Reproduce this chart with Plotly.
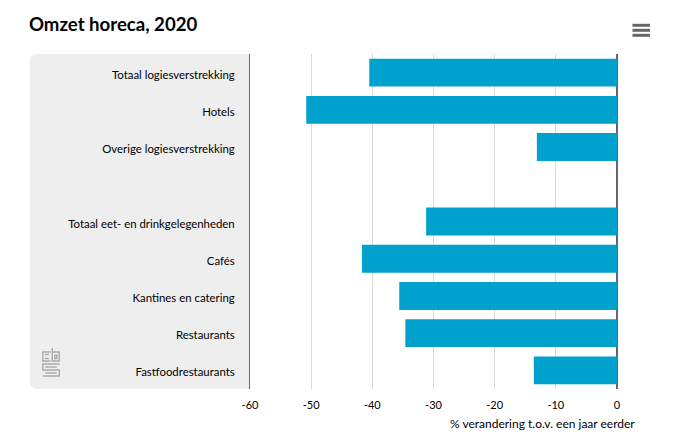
import plotly.graph_objects as go

categories = ["Totaal logiesverstrekking", "Hotels", "Overige logiesverstrekking", " ",
              "Totaal eet- en drinkgelegenheden", "Cafés", "Kantines en catering",
              "Restaurants", "Fastfoodrestaurants"]
values = [-40.5, -50.8, -13.1, None, -31.2, -41.7, -35.6, -34.6, -13.6]
x_ticks = [-60, -50, -40, -30, -20, -10, 0]
x_labels = ["-60", "-50", "-40", "-30", "-20", "-10", "0"]

W, H = 694, 446
L, R, T, B = 249.5, 617.0, 54.0, 389.0
FONT = "Lato"

def px(x):
    return (x - L) / (R - L)

def py(y):
    return (B - y) / (B - T)

def path(points, close=False):
    s = " ".join(("M" if i == 0 else "L") + f"{px(a):.4f},{py(b):.4f}" for i, (a, b) in enumerate(points))
    return s + (" Z" if close else "")

shapes = []
# grey panel behind the labels, rounded on the left
r = 8
panel = (f"M{px(249.5):.4f},{py(54):.4f} L{px(29 + r):.4f},{py(54):.4f} "
         f"Q{px(29):.4f},{py(54):.4f} {px(29):.4f},{py(54 + r):.4f} "
         f"L{px(29):.4f},{py(389 - r):.4f} "
         f"Q{px(29):.4f},{py(389):.4f} {px(29 + r):.4f},{py(389):.4f} "
         f"L{px(249.5):.4f},{py(389):.4f} Z")
shapes.append(dict(type="path", xref="paper", yref="paper", path=panel,
                   fillcolor="#eeeeee", line=dict(width=0), layer="below"))
# menu icon
for y in (25.3, 30.3, 35.3):
    shapes.append(dict(type="line", xref="paper", yref="paper", x0=px(632.5), x1=px(650),
                       y0=py(y), y1=py(y), line=dict(color="#666666", width=3)))
# logo
logo = [
    [(50, 352), (42, 352), (42, 361), (50, 361)],
    [(44, 354.5), (48, 354.5)],
    [(44, 358.5), (48, 358.5)],
    [(51.5, 348), (51.5, 361), (58.5, 361), (58.5, 352), (51.5, 352)],
    [(54, 355), (56, 355), (56, 358.5), (54, 358.5), (54, 355)],
    [(59, 364), (42, 364), (42, 370), (58.5, 370), (58.5, 376), (42, 376)],
    [(44.5, 367), (56, 367)],
    [(44.5, 373), (56, 373)],
]
for seg in logo:
    shapes.append(dict(type="path", xref="paper", yref="paper", path=path(seg),
                       line=dict(color="#aaaaaa", width=1.4)))

fig = go.Figure(go.Bar(y=categories, x=values, orientation="h",
                       marker=dict(color="#00a1cd", line=dict(width=0)), hoverinfo="skip"))
fig.update_layout(
    width=W, height=H, autosize=False,
    margin=dict(l=L, r=W - R, t=T, b=H - B, pad=0),
    paper_bgcolor="white", plot_bgcolor="rgba(0,0,0,0)",
    bargap=0.25, showlegend=False,
    font=dict(family=FONT, color="#000000", size=11.4),
    title=dict(text="<b>Omzet horeca, 2020</b>", xref="container", yref="container", x=29 / W, xanchor="left",
               y=1 - 24 / H, yanchor="middle", font=dict(family=FONT, size=18.6, color="#000000")),
    shapes=shapes,
    annotations=[dict(text="% verandering t.o.v. een jaar eerder", xref="paper", yref="paper",
                      x=px(637.5), y=py(423), xanchor="right", yanchor="middle", showarrow=False,
                      font=dict(family=FONT, size=12, color="#000000"))],
)
fig.update_xaxes(range=[-60, 0], tickvals=x_ticks, ticktext=x_labels, showgrid=True, gridcolor="#d8d8d8", gridwidth=1,
                 zeroline=True, zerolinecolor="#666666", zerolinewidth=2, showline=False,
                 ticks="outside", ticklen=6, tickcolor="rgba(0,0,0,0)", tickfont=dict(family=FONT, size=11),
                 layer="below traces", fixedrange=True)
fig.update_yaxes(type="category", categoryorder="array", categoryarray=categories, autorange="reversed",
                 showgrid=False, zeroline=False, showline=True, linecolor="#666666", linewidth=1,
                 ticks="outside", ticklen=12, tickcolor="rgba(0,0,0,0)", ticklabelshift=-2,
                 tickfont=dict(family=FONT, size=11.4), fixedrange=True)
fig.write_html("out.html", config=dict(displayModeBar=False),
               post_script="document.body.style.margin='0';")
